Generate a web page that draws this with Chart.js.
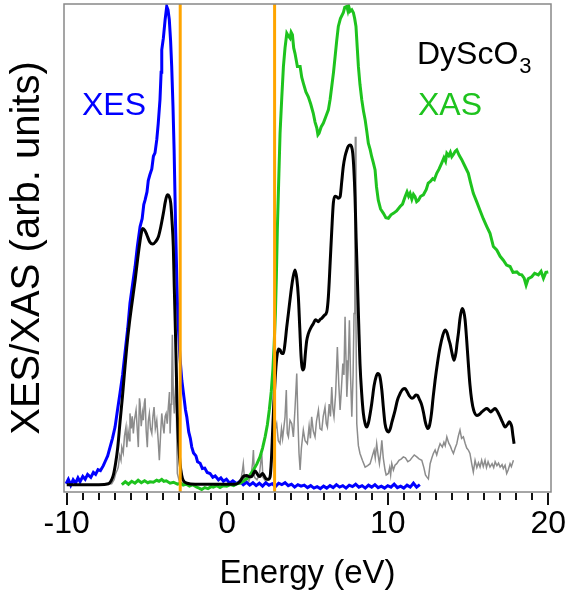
<!DOCTYPE html>
<html>
<head>
<meta charset="utf-8">
<script src="https://cdn.jsdelivr.net/npm/chart.js@4"></script>
<style>
  html, body { margin: 0; padding: 0; background: #fff; }
</style>
</head>
<body>
<canvas id="spectra" width="566" height="592"></canvas>
<script>
// Measured XES (emission) spectrum
const xesEnergy = [-10.04, -9.9, -9.75, -9.6, -9.45, -9.3, -9.17, -9.0, -8.85, -8.7, -8.5, -8.34, -8.2, -8.05, -7.9, -7.72, -7.6, -7.45, -7.3, -7.15,
  -6.99, -6.85, -6.68, -6.52, -6.37, -6.2, -6.06, -5.9, -5.74, -5.6, -5.43, -5.3, -5.2, -5.12, -5.0, -4.92, -4.82, -4.7, -4.6, -4.5,
  -4.39, -4.3, -4.19, -4.12, -4.08, -3.98, -3.87, -3.77, -3.69, -3.61, -3.53, -3.46, -3.38, -3.31, -3.21, -3.14, -3.07, -2.95, -2.83, -2.7,
  -2.6, -2.52, -2.4, -2.3, -2.21, -2.1, -1.95, -1.85, -1.69, -1.55, -1.4, -1.25, -1.07, -0.9, -0.75, -0.55, -0.4, -0.24, -0.05, 0.15,
  0.35, 0.59, 0.8, 1.0, 1.2, 1.4, 1.6, 1.8, 2.0, 2.2, 2.4, 2.6, 2.8, 3.0, 3.2, 3.4, 3.6, 3.8, 4.0, 4.2,
  4.4, 4.6, 4.8, 5.0, 5.2, 5.4, 5.6, 5.8, 6.0, 6.2, 6.4, 6.6, 6.8, 7.0, 7.2, 7.4, 7.6, 7.8, 8.0, 8.2,
  8.4, 8.6, 8.8, 9.0, 9.2, 9.4, 9.6, 9.8, 10.0, 10.2, 10.4, 10.6, 10.8, 11.0, 11.2, 11.4, 11.6, 11.8, 12.0];
const xesIntensity = [1.7, 2.6, 1.4, 2.5, 1.8, 2.9, 2.1, 3.2, 2.6, 3.6, 3.0, 4.0, 3.6, 4.6, 4.4, 5.4, 6.3, 7.4, 9.2, 11.0,
  13.3, 16.5, 20.3, 24.0, 28.5, 33.5, 38.7, 42.5, 46.2, 50.3, 54.4, 56.0, 58.9, 59.8, 61.5, 63.8, 65.0, 66.2, 68.8, 69.5,
  72.2, 75.5, 80.4, 86.0, 90.6, 93.0, 96.8, 99.5, 98.8, 96.8, 92.5, 87.2, 79.0, 70.1, 53.1, 43.5, 35.2, 27.8, 22.9, 19.5,
  16.8, 15.4, 12.3, 11.0, 9.2, 8.0, 7.4, 6.2, 5.9, 4.8, 4.9, 4.0, 3.8, 3.0, 3.3, 2.5, 2.9, 2.2, 2.6, 1.8,
  2.3, 1.7, 2.2, 1.5, 2.0, 1.4, 1.9, 1.3, 1.8, 1.2, 1.9, 1.4, 1.7, 1.1, 1.8, 1.5, 1.9, 1.3, 1.6, 1.0,
  1.5, 1.2, 1.4, 0.9, 1.3, 0.8, 1.1, 0.7, 1.2, 0.8, 1.3, 0.9, 1.5, 1.0, 1.3, 0.8, 1.4, 1.1, 1.6, 1.0,
  1.3, 0.8, 1.4, 1.0, 1.5, 0.9, 1.2, 0.8, 1.3, 1.0, 1.6, 0.9, 1.2, 0.8, 1.4, 1.0, 1.8, 1.0, 1.5];

// Measured XAS (absorption) spectrum
const xasEnergy = [-6.57, -6.35, -6.15, -5.95, -5.75, -5.55, -5.35, -5.15, -4.95, -4.81, -4.6, -4.4, -4.25, -4.08, -3.95, -3.8, -3.56, -3.35, -3.1, -2.9,
  -2.74, -2.55, -2.35, -2.15, -1.9, -1.75, -1.59, -1.4, -1.2, -1.0, -0.87, -0.65, -0.45, -0.25, -0.03, 0.2, 0.4, 0.59, 0.8, 1.0,
  1.21, 1.42, 1.63, 1.84, 2.04, 2.2, 2.36, 2.5, 2.62, 2.74, 2.84, 2.92, 3.0, 3.06, 3.12, 3.2, 3.29, 3.4, 3.5, 3.6,
  3.71, 3.8, 3.91, 3.98, 4.06, 4.14, 4.22, 4.37, 4.54, 4.64, 4.74, 4.9, 5.05, 5.2, 5.36, 5.47, 5.58, 5.65, 5.72, 5.85,
  5.99, 6.15, 6.3, 6.41, 6.51, 6.62, 6.72, 6.82, 6.92, 7.05, 7.23, 7.32, 7.45, 7.52, 7.58, 7.65, 7.76, 7.86, 7.94, 8.02,
  8.1, 8.17, 8.27, 8.38, 8.49, 8.59, 8.69, 8.79, 8.9, 9.0, 9.1, 9.21, 9.3, 9.41, 9.55, 9.73, 9.88, 10.04, 10.2, 10.35,
  10.55, 10.77, 10.92, 11.08, 11.2, 11.3, 11.39, 11.5, 11.6, 11.7, 11.8, 11.91, 12.05, 12.22, 12.4, 12.52, 12.64, 12.8, 12.9, 13.05,
  13.2, 13.36, 13.5, 13.6, 13.68, 13.8, 13.9, 13.99, 14.1, 14.2, 14.3, 14.45, 14.61, 14.8, 15.02, 15.15, 15.33, 15.55, 15.75, 15.95,
  16.17, 16.37, 16.58, 16.79, 17.0, 17.2, 17.4, 17.62, 17.8, 18.04, 18.2, 18.35, 18.5, 18.62, 18.75, 18.97, 19.15, 19.38, 19.55, 19.7,
  19.85, 20.0];
const xasIntensity = [1.5, 2.1, 1.6, 2.2, 1.8, 2.4, 1.9, 2.3, 1.9, 2.1, 2.0, 2.4, 2.2, 2.6, 2.2, 2.3, 1.8, 2.0, 1.6, 1.8,
  1.4, 1.6, 1.2, 1.5, 1.0, 0.8, 0.5, 0.9, 0.7, 1.1, 1.0, 1.3, 0.9, 1.3, 1.2, 1.5, 1.3, 1.7, 1.8, 2.2,
  2.7, 3.5, 4.5, 5.7, 7.2, 9.0, 11.3, 13.8, 16.8, 20.5, 25.0, 30.0, 36.6, 44.0, 53.7, 63.0, 73.5, 81.0, 87.2, 91.0,
  94.0, 93.5, 93.0, 94.2, 93.7, 91.0, 89.9, 87.2, 87.2, 85.0, 83.8, 82.0, 81.0, 79.5, 77.6, 75.8, 74.6, 73.2, 73.5, 74.8,
  75.6, 77.0, 78.3, 80.5, 83.1, 86.0, 89.2, 92.5, 95.4, 97.0, 98.2, 99.3, 99.5, 98.6, 99.4, 98.5, 98.8, 98.2, 97.0, 95.4,
  91.0, 87.2, 83.5, 80.4, 78.0, 76.3, 74.0, 71.5, 70.2, 68.7, 67.5, 66.0, 62.5, 59.8, 58.0, 57.1, 56.2, 56.1, 56.8, 57.1,
  57.6, 58.5, 59.0, 60.5, 61.5, 60.6, 61.2, 60.0, 61.0, 60.5, 59.5, 59.8, 60.6, 60.9, 62.0, 63.3, 63.6, 64.2, 64.0, 65.3,
  66.2, 67.4, 68.5, 67.8, 69.4, 68.9, 69.6, 68.7, 69.2, 69.8, 70.1, 69.0, 68.1, 66.8, 65.3, 63.5, 61.2, 59.4, 57.7, 56.0,
  54.4, 53.0, 50.3, 49.6, 48.3, 47.5, 46.5, 46.2, 45.0, 45.1, 44.6, 44.5, 43.8, 42.4, 43.7, 44.1, 44.8, 44.5, 45.2, 43.8,
  45.0, 45.1];

// Calculated spectrum, broadened (black)
const calcEnergy = [-10.0, -8.0, -7.4, -7.25, -7.1, -6.95, -6.82, -6.68, -6.53, -6.4, -6.26, -6.1, -5.95, -5.74, -5.58, -5.43, -5.33, -5.26, -5.13,
  -5.01, -4.82, -4.64, -4.46, -4.29, -4.13, -3.98, -3.85, -3.73, -3.62, -3.52, -3.44, -3.36, -3.3, -3.23, -3.17, -3.11, -3.03, -2.94, -2.84,
  -2.74, -2.5, -2.0, 0.5, 0.75, 0.9, 1.05, 1.21, 1.38, 1.53, 1.65, 1.73, 1.85, 1.95, 2.04, 2.13, 2.21, 2.32, 2.42, 2.55,
  2.67, 2.75, 2.83, 2.9, 2.98, 3.05, 3.12, 3.2, 3.29, 3.4, 3.5, 3.6, 3.7, 3.81, 3.95, 4.08, 4.22, 4.33, 4.43, 4.52,
  4.6, 4.7, 4.79, 4.87, 4.95, 5.05, 5.2, 5.36, 5.5, 5.6, 5.68, 5.8, 5.89, 6.05, 6.2, 6.3, 6.41, 6.51, 6.61, 6.72,
  6.82, 6.93, 7.03, 7.13, 7.23, 7.34, 7.45, 7.55, 7.65, 7.74, 7.82, 7.89, 7.96, 8.03, 8.11, 8.19, 8.27, 8.38, 8.48, 8.59,
  8.69, 8.8, 8.9, 9.0, 9.15, 9.27, 9.38, 9.5, 9.63, 9.73, 9.83, 9.94, 10.04, 10.15, 10.25, 10.46, 10.6, 10.77, 10.92, 11.08,
  11.2, 11.35, 11.5, 11.62, 11.75, 11.85, 11.97, 12.1, 12.22, 12.35, 12.49, 12.6, 12.72, 12.83, 12.95, 13.1, 13.26, 13.42, 13.57, 13.7,
  13.8, 13.88, 14.0, 14.13, 14.25, 14.32, 14.4, 14.5, 14.63, 14.73, 14.82, 14.92, 15.02, 15.12, 15.23, 15.35, 15.55, 15.7, 15.86, 16.0,
  16.17, 16.3, 16.42, 16.55, 16.69, 16.85, 17.0, 17.15, 17.31, 17.45, 17.58, 17.66, 17.73, 17.8, 17.87];
const calcIntensity = [1.5, 1.5, 1.7, 2.2, 3.4, 6.0, 9.2, 14.3, 19.5, 24.5, 29.7, 34.5, 38.3, 43.4, 47.8, 51.5, 53.4, 54.0, 53.6,
  52.7, 51.2, 50.8, 51.3, 52.3, 54.5, 57.1, 59.6, 60.9, 60.6, 59.2, 55.5, 50.3, 42.0, 33.2, 24.5, 16.1, 10.0, 5.8, 3.5,
  2.4, 1.8, 1.6, 1.6, 2.0, 2.7, 3.3, 3.4, 3.1, 3.2, 3.9, 4.3, 3.8, 3.3, 3.2, 3.6, 3.8, 3.2, 2.7, 2.6,
  3.1, 6.5, 12.7, 18.0, 22.9, 26.3, 28.4, 29.3, 29.1, 28.4, 28.4, 30.5, 33.6, 36.6, 40.5, 43.6, 45.5, 43.8, 40.0, 33.5,
  27.8, 25.0, 25.5, 28.5, 31.0, 32.4, 33.6, 34.5, 35.3, 35.1, 34.9, 35.4, 35.6, 36.2, 36.9, 40.0, 46.9, 53.5, 59.2, 60.6,
  60.5, 60.2, 60.5, 63.5, 66.7, 68.8, 70.1, 70.9, 71.1, 70.8, 69.4, 66.0, 60.5, 52.0, 43.4, 34.5, 26.3, 20.0, 16.1, 14.0,
  13.3, 14.2, 16.0, 18.1, 21.8, 23.6, 24.3, 23.8, 20.9, 17.2, 14.0, 12.6, 12.3, 12.9, 14.2, 16.8, 18.8, 20.2, 21.0, 21.2,
  20.6, 19.7, 19.2, 19.4, 19.9, 19.8, 19.0, 18.0, 16.4, 14.2, 13.0, 13.6, 16.0, 19.5, 22.9, 26.5, 29.7, 32.0, 33.2, 32.6,
  31.3, 30.4, 28.5, 27.0, 28.6, 30.5, 32.5, 35.5, 37.6, 37.0, 35.2, 31.0, 26.3, 22.0, 18.8, 16.8, 15.7, 15.9, 16.4, 16.8,
  17.1, 16.8, 16.4, 16.8, 17.1, 16.4, 15.4, 14.3, 13.3, 13.8, 14.4, 14.0, 13.3, 11.5, 9.9];

// Calculated spectrum, unbroadened (grey)
const dosEnergy = [-7.6, -7.2, -7.05, -6.95, -6.85, -6.79, -6.7, -6.62, -6.57, -6.48, -6.4, -6.31, -6.26, -6.18, -6.1, -6.06, -5.98, -5.92, -5.85, -5.78,
  -5.68, -5.6, -5.54, -5.47, -5.43, -5.36, -5.28, -5.23, -5.17, -5.12, -5.05, -4.98, -4.92, -4.85, -4.78, -4.7, -4.63, -4.56, -4.48, -4.39,
  -4.3, -4.23, -4.15, -4.08, -4.0, -3.94, -3.87, -3.81, -3.74, -3.67, -3.6, -3.56, -3.5, -3.46, -3.42, -3.36, -3.3, -3.24, -3.19, -3.14,
  -3.11, -2.98, -2.7, 0.6, 0.85, 0.95, 1.0, 1.08, 1.2, 1.35, 1.5, 1.58, 1.63, 1.7, 1.85, 2.0, 2.1, 2.15, 2.22, 2.4,
  2.6, 2.75, 2.85, 2.92, 2.98, 3.08, 3.18, 3.29, 3.38, 3.45, 3.6, 3.68, 3.74, 3.81, 3.91, 4.02, 4.12, 4.22, 4.33, 4.4,
  4.47, 4.54, 4.62, 4.74, 4.85, 4.99, 5.1, 5.18, 5.26, 5.36, 5.47, 5.56, 5.68, 5.78, 5.89, 5.98, 6.09, 6.17, 6.24, 6.35,
  6.43, 6.51, 6.58, 6.65, 6.75, 6.86, 6.95, 7.03, 7.11, 7.2, 7.27, 7.34, 7.4, 7.45, 7.53, 7.61, 7.68, 7.76, 7.84, 7.9,
  7.95, 7.98, 8.02, 8.07, 8.17, 8.27, 8.42, 8.59, 8.75, 8.9, 9.05, 9.15, 9.22, 9.31, 9.4, 9.48, 9.56, 9.63, 9.72, 9.83,
  9.9, 10.04, 10.12, 10.18, 10.25, 10.35, 10.45, 10.56, 10.7, 10.85, 10.97, 11.1, 11.25, 11.39, 11.5, 11.65, 11.81, 11.95, 12.12, 12.25,
  12.35, 12.43, 12.53, 12.64, 12.75, 12.84, 12.95, 13.05, 13.15, 13.26, 13.4, 13.5, 13.58, 13.68, 13.8, 13.9, 13.99, 14.09, 14.2, 14.3,
  14.4, 14.5, 14.6, 14.71, 14.82, 14.92, 15.02, 15.12, 15.23, 15.33, 15.44, 15.55, 15.65, 15.75, 15.85, 15.95, 16.06, 16.15, 16.25, 16.37,
  16.5, 16.6, 16.69, 16.8, 16.9, 17.0, 17.12, 17.2, 17.31, 17.41, 17.5, 17.62, 17.7, 17.83];
const dosIntensity = [1.6, 1.7, 2.5, 3.8, 4.5, 5.1, 7.5, 6.5, 9.2, 8.0, 11.5, 13.3, 9.2, 12.5, 10.5, 16.1, 13.0, 15.5, 12.0, 14.8,
  16.8, 12.5, 9.2, 19.2, 18.1, 13.5, 16.2, 14.7, 18.1, 19.2, 12.5, 9.2, 14.5, 16.1, 13.0, 12.0, 15.5, 17.4, 13.0, 14.7,
  10.5, 6.5, 12.0, 16.1, 13.5, 12.0, 15.5, 16.1, 14.0, 17.4, 20.5, 12.0, 18.0, 22.9, 32.2, 20.0, 16.1, 20.5, 22.9, 10.0,
  3.8, 2.1, 1.7, 1.7, 2.5, 4.5, 5.8, 2.5, 3.0, 2.2, 3.8, 6.0, 8.6, 3.0, 2.5, 3.5, 6.5, 7.9, 3.0, 2.2,
  2.5, 6.0, 9.0, 13.0, 12.7, 14.0, 10.5, 9.9, 13.0, 11.0, 15.4, 20.9, 12.0, 11.3, 14.7, 14.0, 11.3, 17.0, 24.3, 15.0,
  8.0, 4.5, 9.0, 12.7, 10.5, 9.9, 13.5, 11.0, 15.4, 12.5, 11.3, 14.5, 16.8, 13.0, 12.7, 15.5, 17.4, 14.0, 13.3, 18.0,
  15.5, 21.5, 17.0, 15.4, 20.0, 29.7, 22.0, 16.8, 21.0, 26.3, 24.0, 35.9, 27.0, 19.5, 25.0, 35.2, 24.0, 15.4, 24.0, 36.6,
  50.0, 72.8, 35.0, 14.0, 9.5, 7.9, 6.5, 5.1, 5.4, 5.8, 7.5, 8.6, 7.0, 9.9, 7.5, 5.8, 8.0, 10.6, 7.0, 4.5,
  3.5, 3.8, 5.0, 3.5, 5.8, 4.5, 5.5, 5.8, 6.5, 6.8, 7.2, 7.0, 6.2, 6.5, 7.0, 7.6, 7.2, 6.8, 6.5, 5.0,
  3.5, 3.1, 2.7, 5.8, 7.0, 7.9, 8.6, 7.6, 8.8, 9.9, 9.2, 10.2, 9.5, 11.3, 10.0, 9.4, 8.6, 7.9, 9.0, 9.9,
  11.5, 12.7, 11.0, 11.3, 10.0, 9.0, 8.6, 7.9, 5.8, 4.1, 6.5, 5.0, 6.0, 5.1, 6.5, 5.2, 6.5, 5.0, 6.2, 5.1,
  5.8, 5.0, 6.2, 5.4, 5.9, 5.1, 5.6, 4.8, 5.5, 3.8, 4.5, 5.8, 5.2, 6.5];

// Band edges (orange markers)
const edgeEnergies = [-2.93, 2.95];
const edgeSpan = [0, 100];

const xTickValues = [-10, 0, 10, 20];
const xMinorStep = 1;

const FONT = '"Liberation Sans", Arial, Helvetica, sans-serif';

const toPoints = (xs, ys) => xs.map((x, i) => ({ x: x, y: ys[i] }));

function lineSet(label, xs, ys, color, width, smooth) {
    return {
        label: label,
        data: toPoints(xs, ys),
        borderColor: color,
        borderWidth: width,
        pointRadius: 0,
        fill: false,
        cubicInterpolationMode: smooth ? 'monotone' : 'default',
        tension: 0
    };
}

const edgeSets = edgeEnergies.map((e, i) => lineSet('edge' + i, [e, e], edgeSpan, '#ffa500', 3, false));

// frame, minor/major tick marks and the in-plot labels
const decorations = {
    id: 'decorations',
    afterDraw(chart) {
        const ctx = chart.ctx;
        const area = chart.chartArea;
        const xs = chart.scales.x;
        ctx.save();
        ctx.strokeStyle = '#888';
        ctx.lineWidth = 1.5;
        ctx.strokeRect(area.left, area.top, area.right - area.left, area.bottom - area.top);

        ctx.strokeStyle = '#111';
        ctx.lineWidth = 2;
        for (let v = xTickValues[0]; v <= xTickValues[xTickValues.length - 1]; v += xMinorStep) {
            const px = Math.round(xs.getPixelForValue(v));
            const len = v % 10 === 0 ? 12 : 7;
            ctx.beginPath();
            ctx.moveTo(px, area.bottom + 1);
            ctx.lineTo(px, area.bottom + 1 + len);
            ctx.stroke();
        }

        ctx.textBaseline = 'alphabetic';
        ctx.textAlign = 'left';
        ctx.font = '32px ' + FONT;
        ctx.fillStyle = '#0000ff';
        ctx.fillText('XES', 82, 115);
        ctx.fillStyle = '#1ec31e';
        ctx.fillText('XAS', 418, 115);
        ctx.fillStyle = '#000';
        ctx.fillText('DyScO', 417, 64);
        const w = ctx.measureText('DyScO').width;
        ctx.font = '22px ' + FONT;
        ctx.fillText('3', 417 + w + 1, 73);
        ctx.restore();
    }
};

new Chart(document.getElementById('spectra'), {
    type: 'line',
    data: {
        datasets: [
            ...edgeSets,
            lineSet('calc', calcEnergy, calcIntensity, '#000000', 3, true),
            lineSet('XAS', xasEnergy, xasIntensity, '#1ec31e', 3, false),
            lineSet('XES', xesEnergy, xesIntensity, '#0000ff', 3, false),
            lineSet('dos', dosEnergy, dosIntensity, '#8c8c8c', 1.5, false)
        ]
    },
    options: {
        responsive: false,
        animation: false,
        layout: { padding: { left: 0, right: 15, top: 4, bottom: 0 } },
        plugins: {
            legend: { display: false },
            tooltip: { enabled: false }
        },
        scales: {
            x: {
                type: 'linear',
                min: -10.17,
                max: 20.17,
                afterBuildTicks: (scale) => { scale.ticks = xTickValues.map(v => ({ value: v })); },
                afterFit: (scale) => {
                    scale.height = 100;
                    scale.paddingLeft = 0;
                    scale.paddingRight = 0;
                },
                grid: { display: false, drawTicks: false },
                border: { display: false },
                ticks: {
                    padding: 13,
                    maxRotation: 0,
                    color: '#000',
                    font: { family: FONT, size: 32 }
                },
                title: {
                    display: true,
                    text: 'Energy (eV)',
                    color: '#000',
                    font: { family: FONT, size: 33, lineHeight: 1 },
                    padding: { top: 0, bottom: 2 }
                }
            },
            y: {
                min: 0,
                max: 100,
                afterFit: (scale) => {
                    scale.width = 64;
                    scale.paddingTop = 0;
                    scale.paddingBottom = 0;
                },
                grid: { display: false, drawTicks: false },
                border: { display: false },
                ticks: { display: false },
                title: {
                    display: true,
                    text: 'XES/XAS (arb. units)',
                    color: '#000',
                    font: { family: FONT, size: 40, lineHeight: 1 },
                    padding: { top: 8, bottom: 0 }
                }
            }
        }
    },
    plugins: [decorations]
});
</script>
</body>
</html>
